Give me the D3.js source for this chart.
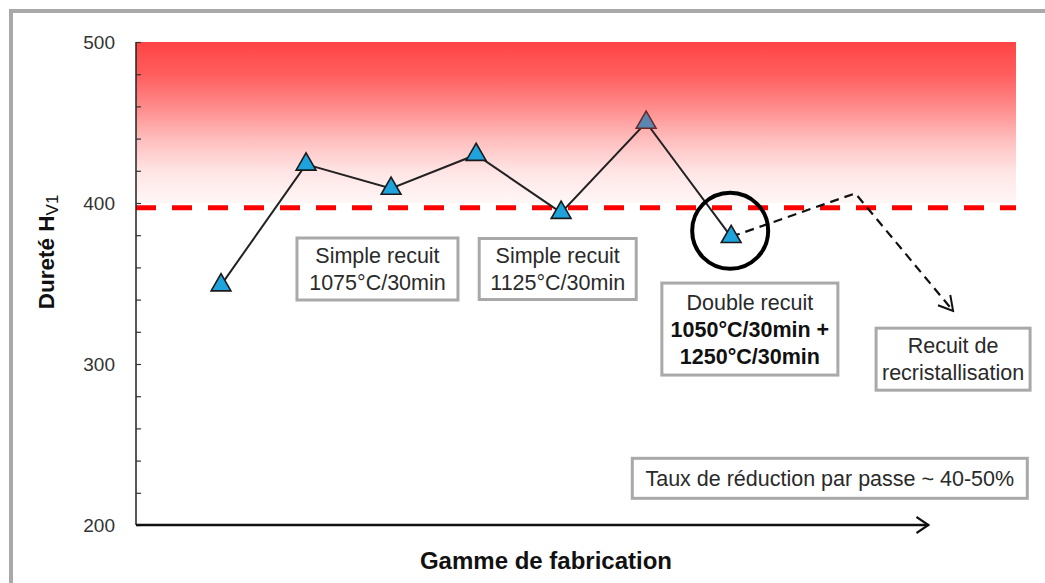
<!DOCTYPE html>
<html>
<head>
<meta charset="utf-8">
<script src="https://cdn.jsdelivr.net/npm/d3@7"></script>
<style>
  html, body { margin: 0; padding: 0; background: #fff; }
  svg { display: block; font-family: "Liberation Sans", Arial, sans-serif; }
</style>
</head>
<body>
<svg id="chart" width="1045" height="583"></svg>
<script>
// ---- data ----
const steps = [1, 2, 3, 4, 5, 6, 7];
const hardness = [349, 424, 409, 430, 394, 450, 379];
const pointFill = ["#1fa3dc", "#1fa3dc", "#1fa3dc", "#1fa3dc", "#1fa3dc", "#5b86b2", "#1fa3dc"];
const pointStroke = ["#1a1a1a", "#1a1a1a", "#1a1a1a", "#1a1a1a", "#1a1a1a", "#6a2a2a", "#1a1a1a"];
const yTickLabels = [200, 300, 400, 500];
const yMinorTicks = d3.range(200, 501, 20);
const threshold = 397;
const zoneRange = [400, 500];
const projSteps = [7, 8.46, 9.61];
const projValues = [379, 406, 333];
const yLabel = "Dureté H";
const yLabelSub = "V1";
const xLabel = "Gamme de fabrication";
const notes = [
  { step: 2.84, value: 359, w: 161, h: 62, lines: [["Simple recuit", false], ["1075°C/30min", false]] },
  { step: 4.96, value: 359, w: 157, h: 61, lines: [["Simple recuit", false], ["1125°C/30min", false]] },
  { step: 7.22, value: 321.7, w: 176, h: 92, lines: [["Double recuit", false], ["1050°C/30min +", true], ["1250°C/30min", true]] },
  { step: 9.61, value: 303, w: 154, h: 62, lines: [["Recuit de", false], ["recristallisation", false]] },
  { step: 8.16, value: 229, w: 395, h: 40, lines: [["Taux de réduction par passe ~ 40-50%", false]] }
];

// ---- scales ----
const svg = d3.select("#chart");
const x = d3.scaleLinear().domain([0, 10.35]).range([136, 1016]);
const y = d3.scaleLinear().domain([200, 500]).range([525, 42]);

// outer frame
svg.append("rect").attr("x", 11).attr("y", 11).attr("width", 1100).attr("height", 700)
  .attr("fill", "none").attr("stroke", "#a9a9a9").attr("stroke-width", 4);

// gradient zone
const defs = svg.append("defs");
const grad = defs.append("linearGradient").attr("id", "zone").attr("x1", 0).attr("y1", 0).attr("x2", 0).attr("y2", 1);
[[0, "#ff4444"], [0.2, "#ff5d5d"], [0.4, "#ff8a8a"], [0.6, "#ffbcbc"], [0.8, "#ffe4e4"], [1, "#fff7f7"]]
  .forEach(([o, c]) => grad.append("stop").attr("offset", o).attr("stop-color", c));
svg.append("rect")
  .attr("x", x(0)).attr("y", y(zoneRange[1]))
  .attr("width", x(10.35) - x(0)).attr("height", y(zoneRange[0]) - y(zoneRange[1]))
  .attr("fill", "url(#zone)");

// threshold
svg.append("line")
  .attr("x1", x(0)).attr("x2", x(10.35)).attr("y1", y(threshold)).attr("y2", y(threshold))
  .attr("stroke", "#ff0000").attr("stroke-width", 5).attr("stroke-dasharray", "20,16");

// y axis
const yAxis = d3.axisRight(y).tickValues(yMinorTicks).tickSize(5).tickFormat("");
const ga = svg.append("g").attr("transform", `translate(${x(0)},0)`).call(yAxis);
ga.select(".domain").attr("stroke", "#222").attr("stroke-width", 1.5).attr("d", `M0,${y(500)}V${y(200)}`);
ga.selectAll(".tick line").attr("stroke", "#333").attr("stroke-width", 1.2);

const yLab = d3.axisLeft(y).tickValues(yTickLabels).tickSize(0).tickPadding(21);
const gl = svg.append("g").attr("transform", `translate(${x(0)},0)`).call(yLab);
gl.select(".domain").remove();
gl.selectAll("text").attr("font-size", 19).attr("fill", "#333").attr("font-family", "Liberation Sans, Arial, sans-serif");

// x axis arrow
defs.append("marker").attr("id", "openArrow").attr("viewBox", "-12 -10 14 20")
  .attr("refX", 0).attr("refY", 0).attr("markerWidth", 14).attr("markerHeight", 20)
  .attr("markerUnits", "userSpaceOnUse").attr("orient", "auto")
  .append("path").attr("d", "M-12,-8L0,0L-12,8").attr("fill", "none").attr("stroke", "#111").attr("stroke-width", 2.2);
svg.append("line").attr("x1", x(0)).attr("x2", x(9.32)).attr("y1", y(200)).attr("y2", y(200))
  .attr("stroke", "#111").attr("stroke-width", 2.5).attr("marker-end", "url(#openArrow)");

// data line
const pts = steps.map((s, i) => [s, hardness[i]]);
svg.append("path").datum(pts)
  .attr("d", d3.line().x(d => x(d[0])).y(d => y(d[1])))
  .attr("fill", "none").attr("stroke", "#222").attr("stroke-width", 2);

// projected dashed path
defs.append("marker").attr("id", "openArrow2").attr("viewBox", "-16 -10 18 20")
  .attr("refX", 0).attr("refY", 0).attr("markerWidth", 18).attr("markerHeight", 20)
  .attr("markerUnits", "userSpaceOnUse").attr("orient", "auto")
  .append("path").attr("d", "M-14,-8L0,0L-14,8").attr("fill", "none").attr("stroke", "#111").attr("stroke-width", 2);
const proj = projSteps.map((s, i) => [s, projValues[i]]);
svg.append("path").datum(proj)
  .attr("d", d3.line().x(d => x(d[0])).y(d => y(d[1])))
  .attr("fill", "none").attr("stroke", "#111").attr("stroke-width", 2.2)
  .attr("stroke-dasharray", "9,6").attr("marker-end", "url(#openArrow2)");

// circle around last point
svg.append("circle").attr("cx", x(steps[6]) - 1).attr("cy", y(hardness[6]) - 6).attr("r", 38)
  .attr("fill", "none").attr("stroke", "#000").attr("stroke-width", 4);

// markers
svg.selectAll(".pt").data(pts).join("path")
  .attr("class", "pt")
  .attr("transform", d => `translate(${x(d[0])},${y(d[1])})`)
  .attr("d", d3.symbol(d3.symbolTriangle, 170))
  .attr("fill", (d, i) => pointFill[i]).attr("stroke", (d, i) => pointStroke[i]).attr("stroke-width", 1.6);

// note boxes
notes.forEach(n => {
  const cx = x(n.step), cy = y(n.value);
  const g = svg.append("g");
  g.append("rect").attr("x", cx - n.w / 2).attr("y", cy - n.h / 2).attr("width", n.w).attr("height", n.h)
    .attr("fill", "#fff").attr("stroke", "#a9a9a9").attr("stroke-width", 3);
  const lh = 27;
  const first = cy - (n.lines.length - 1) * lh / 2 + 7.5;
  n.lines.forEach((ln, i) => {
    g.append("text").attr("x", cx).attr("y", first + i * lh)
      .attr("text-anchor", "middle").attr("font-size", 21.5)
      .attr("font-weight", ln[1] ? "bold" : "normal")
      .attr("fill", ln[1] ? "#111" : "#2a2a2a")
      .text(ln[0]);
  });
});

// axis titles
const yt = svg.append("text").attr("transform", `translate(54,${y(369.6)}) rotate(-90)`)
  .attr("text-anchor", "middle").attr("font-size", 22.5).attr("font-weight", "bold").attr("fill", "#111");
yt.append("tspan").text(yLabel);
yt.append("tspan").attr("font-size", 17).attr("font-weight", "normal").attr("dy", 4).text(yLabelSub);

svg.append("text").attr("x", 546).attr("y", 569).attr("text-anchor", "middle")
  .attr("font-size", 24).attr("font-weight", "bold").attr("fill", "#111").text(xLabel);
</script>
</body>
</html>
